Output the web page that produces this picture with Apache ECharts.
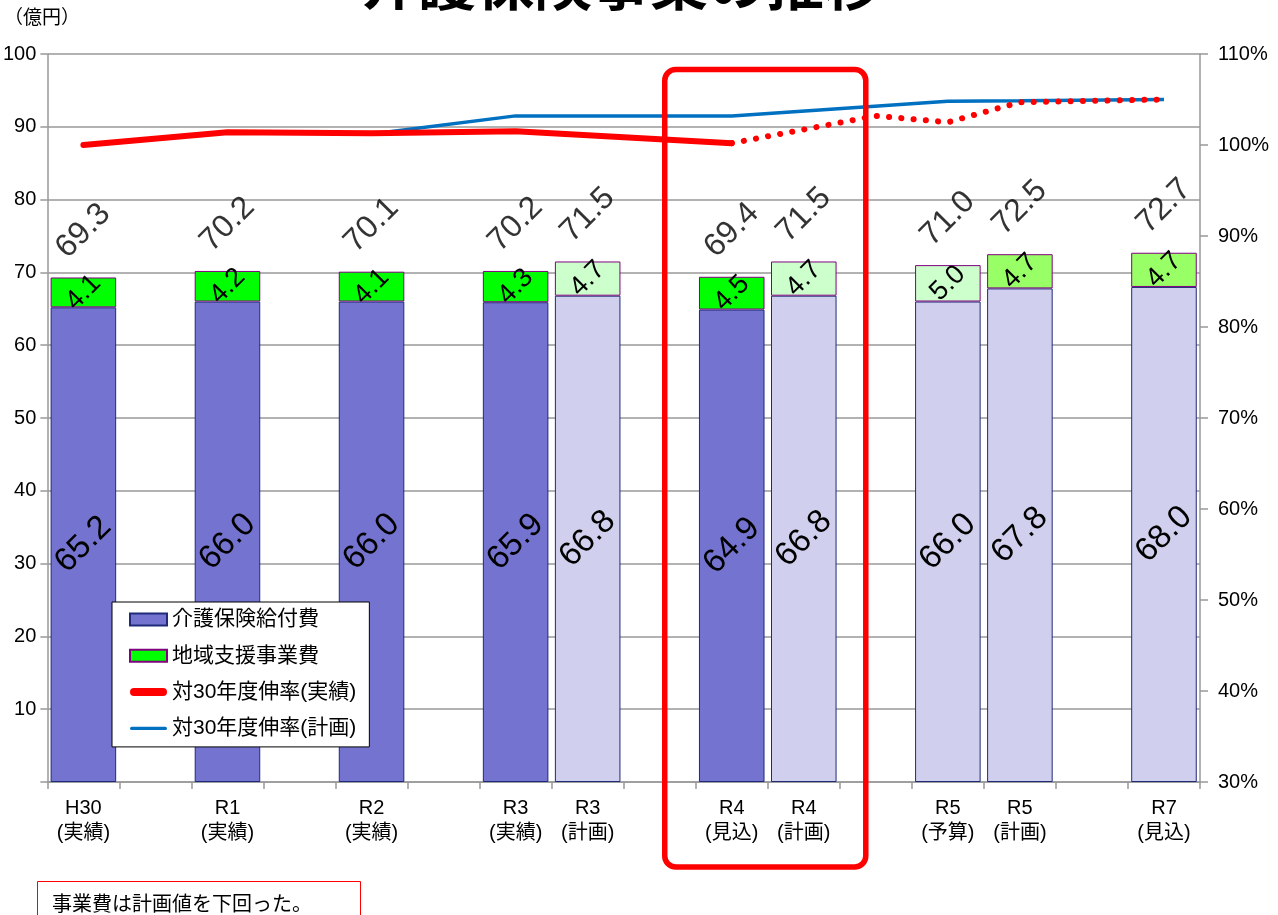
<!DOCTYPE html>
<html>
<head>
<meta charset="utf-8">
<script src="https://cdn.jsdelivr.net/npm/echarts@6/dist/echarts.min.js"></script>
<style>
html,body{margin:0;padding:0;background:#fff;}
#chart{width:1278px;height:915px;}
</style>
</head>
<body>
<div id="chart"></div>
<script>
// ---- data ----
const categories = ['H30\n(実績)', '', 'R1\n(実績)', '', 'R2\n(実績)', '', 'R3\n(実績)', 'R3\n(計画)', '',
  'R4\n(見込)', 'R4\n(計画)', '', 'R5\n(予算)', 'R5\n(計画)', '', 'R7\n(見込)'];
const benefitCost = [65.2, null, 66.0, null, 66.0, null, 65.9, 66.8, null, 64.9, 66.8, null, 66.0, 67.8, null, 68.0];
const supportCost = [4.1, null, 4.2, null, 4.1, null, 4.3, 4.7, null, 4.5, 4.7, null, 5.0, 4.7, null, 4.7];
const totalCost = [69.3, null, 70.2, null, 70.1, null, 70.2, 71.5, null, 69.4, 71.5, null, 71.0, 72.5, null, 72.7];
const growthActual = [100.0, null, 101.4, null, 101.3, null, 101.5, null, null, 100.2, null, null, null, null, null, null];
const growthOutlook = [null, null, null, null, null, null, null, null, null, 100.2, null, 103.2, 102.5, 104.7, null, 105.0];
const growthPlan = [null, null, null, null, 101.2, null, 103.2, 103.2, null, 103.2, null, null, 104.8, 104.85, null, 105.0];
const leftTicks = { min: 0, max: 100, interval: 10 };
const rightTicks = { min: 30, max: 110, interval: 10 };

// ---- styles ----
// style key per category: 0 = actual, 1 = plan (light), 2 = plan (medium green)
const styleKey = [0, 0, 0, 0, 0, 0, 0, 1, 0, 0, 1, 0, 1, 2, 0, 2];
const lowerColors = ['#7474D0', '#D0D0EE', '#D0D0EE'];
const upperColors = ['#00FF00', '#CCFFCC', '#99FF66'];
const FONT = "'Liberation Sans', 'Noto Sans CJK JP', sans-serif";
const RED_ICON = 'path://M4,0 H33 A4,4 0 0 1 33,8 H4 A4,4 0 0 1 4,0 Z';
const BLUE_ICON = 'path://M1.7,0 H35.3 A1.7,1.7 0 0 1 35.3,3.4 H1.7 A1.7,1.7 0 0 1 1.7,0 Z';

const chart = echarts.init(document.getElementById('chart'), null, { renderer: 'canvas' });

const fmt = p => (p.value == null ? '' : Number(p.value).toFixed(1));
const labelBase = { color: '#000', fontFamily: FONT, textBorderWidth: 0, textShadowBlur: 0 };

const option = {
  animation: false,
  backgroundColor: '#fff',
  textStyle: { fontFamily: FONT },
  grid: { left: 47, right: 78, top: 54, bottom: 133 },
  legend: {
    orient: 'vertical',
    left: 112, top: 602,
    padding: [7, 13, 8, 17],
    itemGap: 15.3,
    itemWidth: 37, itemHeight: 12,
    backgroundColor: '#fff',
    borderColor: '#000', borderWidth: 1,
    textStyle: { fontSize: 21, lineHeight: 21, color: '#000', fontFamily: FONT },
    data: [
      { name: '介護保険給付費', icon: 'rect' },
      { name: '地域支援事業費', icon: 'rect' },
      { name: '対30年度伸率(実績)', icon: RED_ICON, itemStyle: { color: '#FF0000', borderWidth: 0 } },
      { name: '対30年度伸率(計画)', icon: BLUE_ICON, itemStyle: { color: '#0070C0', borderWidth: 0 } }
    ]
  },
  xAxis: {
    type: 'category',
    data: categories,
    boundaryGap: true,
    axisLine: { lineStyle: { color: '#999', width: 1.5 } },
    axisTick: { show: true, interval: 0, length: 7, lineStyle: { color: '#999', width: 1.5 } },
    axisLabel: { interval: 0, color: '#000', fontSize: 20, lineHeight: 25, margin: 14, fontFamily: FONT },
    splitLine: { show: false }
  },
  yAxis: [
    {
      type: 'value', min: leftTicks.min, max: leftTicks.max, interval: leftTicks.interval,
      axisLine: { show: true, lineStyle: { color: '#999', width: 1.5 } },
      axisTick: { show: true, length: 7, lineStyle: { color: '#999', width: 1.5 } },
      axisLabel: { color: '#000', fontSize: 20, margin: 11, formatter: v => (v === 0 ? '' : v) },
      splitLine: { show: true, lineStyle: { color: '#999', width: 1.5 } }
    },
    {
      type: 'value', min: rightTicks.min, max: rightTicks.max, interval: rightTicks.interval,
      position: 'right',
      axisLine: { show: true, lineStyle: { color: '#999', width: 1.5 } },
      axisTick: { show: true, length: 8, lineStyle: { color: '#999', width: 1.5 } },
      axisLabel: { color: '#000', fontSize: 20, margin: 18, formatter: '{value}%' },
      splitLine: { show: false }
    }
  ],
  series: [
    {
      name: '介護保険給付費', type: 'bar', stack: 'cost', barWidth: '91%',
      itemStyle: { color: lowerColors[0], borderColor: '#1F2A78', borderWidth: 1 },
      data: benefitCost.map((v, i) => ({ value: v, itemStyle: { color: lowerColors[styleKey[i]] } })),
      label: Object.assign({ show: true, position: 'inside', rotate: 45, fontSize: 33, formatter: fmt }, labelBase),
      z: 2
    },
    {
      name: '地域支援事業費', type: 'bar', stack: 'cost', barWidth: '91%',
      itemStyle: { color: upperColors[0], borderColor: '#800080', borderWidth: 1 },
      data: supportCost.map((v, i) => ({ value: v, itemStyle: { color: upperColors[styleKey[i]] } })),
      label: Object.assign({ show: true, position: 'inside', rotate: 45, fontSize: 27, formatter: fmt }, labelBase),
      z: 2
    },
    {
      name: '合計', type: 'scatter', symbolSize: 1,
      itemStyle: { color: 'rgba(0,0,0,0)' },
      data: totalCost,
      silent: true,
      label: Object.assign({ show: true, position: 'top', distance: 46, align: 'center', verticalAlign: 'middle',
        rotate: 45, fontSize: 32, formatter: fmt }, labelBase),
      z: 3
    },
    {
      name: '対30年度伸率(計画)', type: 'line', yAxisIndex: 1,
      data: growthPlan, connectNulls: true, symbol: 'none',
      lineStyle: { color: '#0070C0', width: 3.5 },
      itemStyle: { color: '#0070C0' },
      z: 5
    },
    {
      name: '対30年度伸率(実績)', type: 'line', yAxisIndex: 1,
      data: growthActual, connectNulls: true, symbol: 'none',
      lineStyle: { color: '#FF0000', width: 6, cap: 'round', join: 'round' },
      itemStyle: { color: '#FF0000' },
      z: 6
    },
    {
      name: '対30年度伸率(見込)', type: 'line', yAxisIndex: 1,
      data: growthOutlook, connectNulls: true, symbol: 'none',
      lineStyle: { color: '#FF0000', width: 6, type: [0.1, 12.2], cap: 'round' },
      itemStyle: { color: '#FF0000' },
      z: 7
    }
  ]
};

chart.setOption(option);

// annotations (positioned from the category axis)
const px9 = chart.convertToPixel({ xAxisIndex: 0 }, 9);
const px10 = chart.convertToPixel({ xAxisIndex: 0 }, 10);

chart.setOption({
  graphic: [
    {
      type: 'text', left: 4, top: 7,
      style: { text: '（億円）', fill: '#000', font: "19px 'Noto Sans CJK JP'" }
    },
    {
      type: 'text', x: 621, y: 12,
      style: { text: '介護保険事業の推移', fill: '#000', textAlign: 'center', textVerticalAlign: 'bottom',
        font: "bold 58px 'Noto Sans CJK JP'" }
    },
    {
      type: 'rect', z: 100,
      shape: { x: px9 - 67, y: 69.5, width: (px10 + 62) - (px9 - 67), height: 797.5, r: 11 },
      style: { fill: 'none', stroke: '#FF0000', lineWidth: 5.5 }
    },
    {
      type: 'rect',
      shape: { x: 37.5, y: 881.5, width: 323, height: 50 },
      style: { fill: '#fff', stroke: '#FF0000', lineWidth: 1 }
    },
    {
      type: 'text', x: 52, y: 903,
      style: { text: '事業費は計画値を下回った。', fill: '#000', textVerticalAlign: 'middle',
        font: "20px 'Noto Sans CJK JP'" }
    }
  ]
});
</script>
</body>
</html>
